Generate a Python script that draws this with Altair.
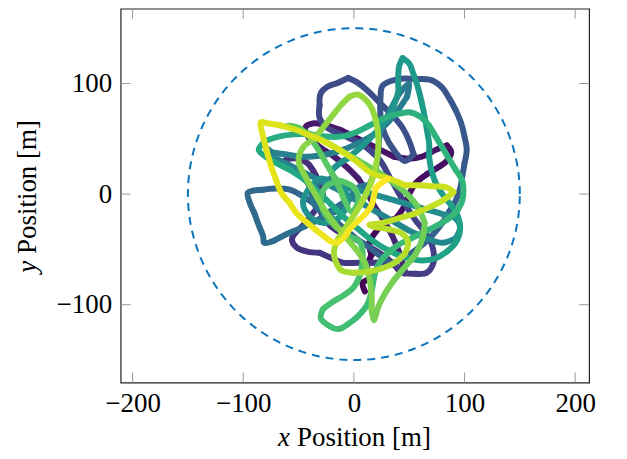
import altair as alt
import pandas as pd
import numpy as np

# ---------------- data ----------------
X_TICKS = [-200, -100, 0, 100, 200]
Y_TICKS = [-100, 0, 100]
X_DOMAIN = [-210.8, 212.6]
Y_DOMAIN = [-170.3, 167.6]
BOUNDARY_RADIUS = 150

# trajectory waypoints (x, y) in metres, in time order
path_pts = [
    # early (purple)
    (10, -88), (8, -80), (14, -76), (12, -66), (16, -55), (14, -44), (20, -34), (28, -26),
    (38, -22), (45, -12), (50, 0), (56, 10), (66, 18), (76, 24), (84, 30), (88, 38),
    (84, 44), (74, 40), (62, 34), (50, 32), (36, 34), (24, 40), (12, 46), (0, 52),
    (-12, 58), (-24, 62), (-36, 64), (-44, 60), (-40, 50), (-30, 42), (-18, 34), (-6, 24),
    (4, 14), (12, 2), (18, -10), (26, -22), (34, -36), (40, -50), (44, -62), (46, -72),
    # dark blue
    (40, -68), (30, -58), (18, -50), (4, -42), (-10, -36), (-22, -28), (-30, -16), (-34, -4),
    (-40, 8), (-48, 18), (-58, 26), (-65, 28), (-60, 32), (-50, 32), (-42, 28), (-36, 20),
    (-30, 8), (-28, -4), (-36, -16), (-44, -26), (-52, -34), (-56, -41), (-52, -48), (-42, -52),
    (-31, -53), (-20, -58), (-10, -62), (4, -62), (18, -62), (31, -62), (40, -66), (46, -71),
    (56, -72), (66, -71), (72, -62), (72, -52), (70, -44), (64, -34), (56, -24), (48, -12),
    (40, 2), (32, 16), (24, 30), (14, 40), (2, 48), (-12, 54), (-24, 60), (-31, 69),
    (-31, 80), (-30, 91), (-24, 97), (-16, 100), (-5, 105), (3, 101), (12, 94), (20, 86),
    (28, 78), (36, 70), (44, 60), (50, 48), (54, 36), (46, 30), (36, 40), (28, 54),
    (24, 70), (24, 86), (26, 98), (40, 104), (55, 104), (70, 103), (80, 96), (86, 87),
    (92, 76), (97, 64), (100, 52), (102, 40), (100, 28), (98, 16), (96, 5), (92, -6),
    (86, -16), (80, -26), (72, -36), (64, -44), (54, -52), (44, -58), (34, -62),
    # teal
    (24, -56), (14, -48), (2, -40), (-10, -30), (-22, -20), (-34, -10), (-46, -2), (-58, 4),
    (-70, 5), (-82, 4), (-92, 3), (-96, 1), (-94, -8), (-90, -17), (-86, -28), (-82, -38),
    (-81, -44), (-72, -42), (-58, -35), (-46, -30), (-34, -24), (-22, -16), (-10, -8), (2, 0),
    (-8, 8), (-20, 14), (-32, 10), (-38, 0), (-34, -12), (-24, -18), (-12, -14), (-4, -4),
    (4, 6), (14, 8), (20, 24), (22, 40), (24, 56), (30, 70), (36, 82), (42, 92), (50, 100),
    (48, 88), (40, 76), (30, 64), (18, 54), (4, 46), (-10, 40), (-24, 36), (-38, 34),
    (-50, 34), (-62, 36), (-74, 38), (-80, 42), (-74, 34), (-66, 30), (-50, 22), (-34, 14),
    (-18, 6), (-4, -2), (10, -10), (24, -18), (38, -26), (52, -34), (66, -40), (80, -44),
    (92, -40), (96, -30), (92, -22), (80, -18), (66, -14), (52, -10), (38, -6), (24, -2),
    (10, 2), (-4, 6), (-18, 10), (-30, 14), (-40, 6), (-46, -8), (-40, -20), (-28, -26),
    (-14, -22), (-6, -10), (-8, 4), (-20, 20), (-6, 32), (8, 44), (20, 56),
    (30, 68), (36, 80), (40, 92), (40, 104), (41, 116), (44, 123), (50, 118), (54, 108),
    (58, 96), (61, 84), (64, 70), (66, 58), (68, 46), (68, 34), (70, 22), (74, 10),
    (80, 0), (88, -10), (94, -20), (96, -32), (92, -44), (84, -52), (74, -58), (62, -60),
    (50, -58), (38, -54),
    # green
    (26, -48), (14, -40), (2, -30), (-10, -20), (-22, -8), (-34, 4), (-46, 14), (-58, 22),
    (-70, 28), (-80, 34), (-86, 40), (-80, 48), (-68, 52), (-54, 54), (-40, 54), (-26, 52),
    (-12, 52), (2, 56), (14, 62), (26, 68), (38, 72), (50, 74), (60, 70), (68, 62),
    (74, 52), (80, 42), (86, 32), (92, 22), (98, 12), (99, 4), (98, -6), (94, -14),
    (86, -22), (76, -28), (64, -34), (52, -40), (40, -46), (30, -54), (22, -64), (18, -76),
    (16, -88), (12, -100), (4, -110), (-6, -118), (-14, -122), (-24, -118), (-30, -112), (-28, -104),
    (-20, -98), (-10, -92), (0, -84), (6, -72), (8, -58), (6, -44), (-4, -38), (-16, -30),
    (-26, -18), (-30, -4), (-24, 8), (-12, 12), (0, 6), (4, -6), (-2, -16), (-10, -2),
    (-16, 12), (-24, 26), (-32, 40), (-40, 52), (-50, 60), (-60, 62), (-48, 58),
    (-34, 52), (-20, 44), (-6, 36), (8, 28), (22, 20), (36, 10), (48, 0), (58, -12),
    (64, -26), (62, -40), (56, -54), (46, -66), (36, -78), (28, -90), (22, -102), (18, -114),
    (16, -104), (16, -90), (14, -76),
    # lime
    (10, -62), (2, -50), (-8, -38), (-18, -26), (-28, -12), (-36, 2), (-44, 16), (-50, 30),
    (-46, 42), (-36, 50), (-28, 60), (-20, 70), (-12, 80), (-4, 88), (3, 90), (10, 86),
    (16, 78), (20, 66), (22, 54), (22, 40), (20, 26), (16, 12), (10, -2), (2, -16),
    (-6, -28), (-14, -40), (-18, -52), (-16, -62), (-11, -69), (0, -71), (14, -70), (26, -67),
    (37, -62), (46, -54), (49, -44), (44, -36), (32, -32), (20, -30), (14, -28), (26, -26),
    (40, -22), (54, -18), (68, -12), (80, -6), (88, 0), (90, 2),
    # yellow (end)
    (84, 6), (72, 7), (58, 8), (46, 8), (32, 14), (16, 19), (2, 30), (-13, 40),
    (-28, 48), (-42, 54), (-52, 58), (-66, 62), (-78, 64), (-84, 65), (-82, 52), (-79, 40),
    (-75, 26), (-70, 12), (-66, 2), (-58, -8), (-52, -17), (-42, -26), (-31, -35), (-22, -42),
    (-16, -44), (-8, -38), (-4, -32), (4, -24), (12, -16), (16, -10), (18, -2), (20, 6),
    (26, 11), (31, 14),
]
path_x = [p[0] for p in path_pts]
path_y = [p[1] for p in path_pts]

TITLE_X = "x"
TITLE_X_REST = "Position [m]"
TITLE_Y = "y"
TITLE_Y_REST = "Position [m]"

# ---------------- tables ----------------
n = len(path_x)
CH = 4  # segments per smooth chunk
rows = []
for k in range(0, n - 1, CH):
    tk = min(k + CH / 2, n - 1) / (n - 1)
    for j in range(k, min(k + CH, n - 1) + 1):
        rows.append({"x": path_x[j], "y": path_y[j], "seg": k, "ord": j, "t": tk})
traj_df = pd.DataFrame(rows)

ang = np.linspace(0, 2 * np.pi, 241)
circ = pd.DataFrame({
    "cx": BOUNDARY_RADIUS * np.cos(ang),
    "cy": BOUNDARY_RADIUS * np.sin(ang),
    "i": np.arange(len(ang)),
})

W, H = 470, 375
FONT = "Liberation Serif"
FS = 27

xs = alt.Scale(domain=X_DOMAIN, nice=False, zero=False)
ys = alt.Scale(domain=Y_DOMAIN, nice=False, zero=False)

xaxis = alt.Axis(values=X_TICKS, title=None, grid=False, ticks=False, tickSize=0,
                 domain=False, labelPadding=8, labelFont=FONT, labelFontSize=FS,
                 labelColor="black", labelFlush=False)
yaxis = alt.Axis(values=Y_TICKS, title=None, grid=False, ticks=False, tickSize=0,
                 domain=False, labelPadding=9, labelFont=FONT, labelFontSize=FS,
                 labelColor="black", labelFlush=False)

circle = alt.Chart(circ).mark_line(
    color="#0a74bd", strokeWidth=2, strokeDash=[8, 6]
).encode(
    x=alt.X("cx:Q", scale=xs, axis=xaxis),
    y=alt.Y("cy:Q", scale=ys, axis=yaxis),
    order="i:Q",
)

traj = alt.Chart(traj_df).mark_line(
    strokeWidth=6, strokeCap="round", strokeJoin="round", interpolate="catmull-rom"
).encode(
    x=alt.X("x:Q", scale=xs),
    y=alt.Y("y:Q", scale=ys),
    detail="seg:N",
    order="ord:Q",
    color=alt.Color("t:Q", scale=alt.Scale(scheme="viridis", domain=[0, 1]), legend=None),
)

xt = pd.DataFrame({"v": X_TICKS})
yt = pd.DataFrame({"v": Y_TICKS})
TL = 10
tick_style = dict(color="#999999", strokeWidth=1)
xt_bot = alt.Chart(xt).mark_rule(**tick_style).encode(
    x=alt.X("v:Q", scale=xs), y=alt.value(H), y2=alt.value(H - TL))
xt_top = alt.Chart(xt).mark_rule(**tick_style).encode(
    x=alt.X("v:Q", scale=xs), y=alt.value(0), y2=alt.value(TL))
yt_left = alt.Chart(yt).mark_rule(**tick_style).encode(
    y=alt.Y("v:Q", scale=ys), x=alt.value(0), x2=alt.value(TL))
yt_right = alt.Chart(yt).mark_rule(**tick_style).encode(
    y=alt.Y("v:Q", scale=ys), x=alt.value(W), x2=alt.value(W - TL))

tdf = pd.DataFrame({"a": [TITLE_X], "b": [TITLE_X_REST], "c": [TITLE_Y], "d": [TITLE_Y_REST]})
tx1 = alt.Chart(tdf).mark_text(font=FONT, fontSize=FS, fontStyle="italic", align="left",
                               baseline="alphabetic", color="black").encode(
    x=alt.value(158), y=alt.value(439), text="a:N")
tx2 = alt.Chart(tdf).mark_text(font=FONT, fontSize=FS, align="left",
                               baseline="alphabetic", color="black").encode(
    x=alt.value(177), y=alt.value(439), text="b:N")
ty1 = alt.Chart(tdf).mark_text(font=FONT, fontSize=FS, fontStyle="italic", align="left",
                               baseline="alphabetic", angle=270, color="black").encode(
    x=alt.value(-85), y=alt.value(265), text="c:N")
ty2 = alt.Chart(tdf).mark_text(font=FONT, fontSize=FS, align="left",
                               baseline="alphabetic", angle=270, color="black").encode(
    x=alt.value(-85), y=alt.value(246), text="d:N")

chart = alt.layer(circle, traj, xt_bot, xt_top, yt_left, yt_right, tx1, tx2, ty1, ty2).properties(
    width=W, height=H,
    autosize=alt.AutoSizeParams(type="none"),
    padding={"left": 113, "top": 0, "right": 30, "bottom": 68},
).configure(background="white").configure_view(stroke="#222222", strokeWidth=1.2)

chart.save("out.html", embed_options={"renderer": "svg", "actions": False})
